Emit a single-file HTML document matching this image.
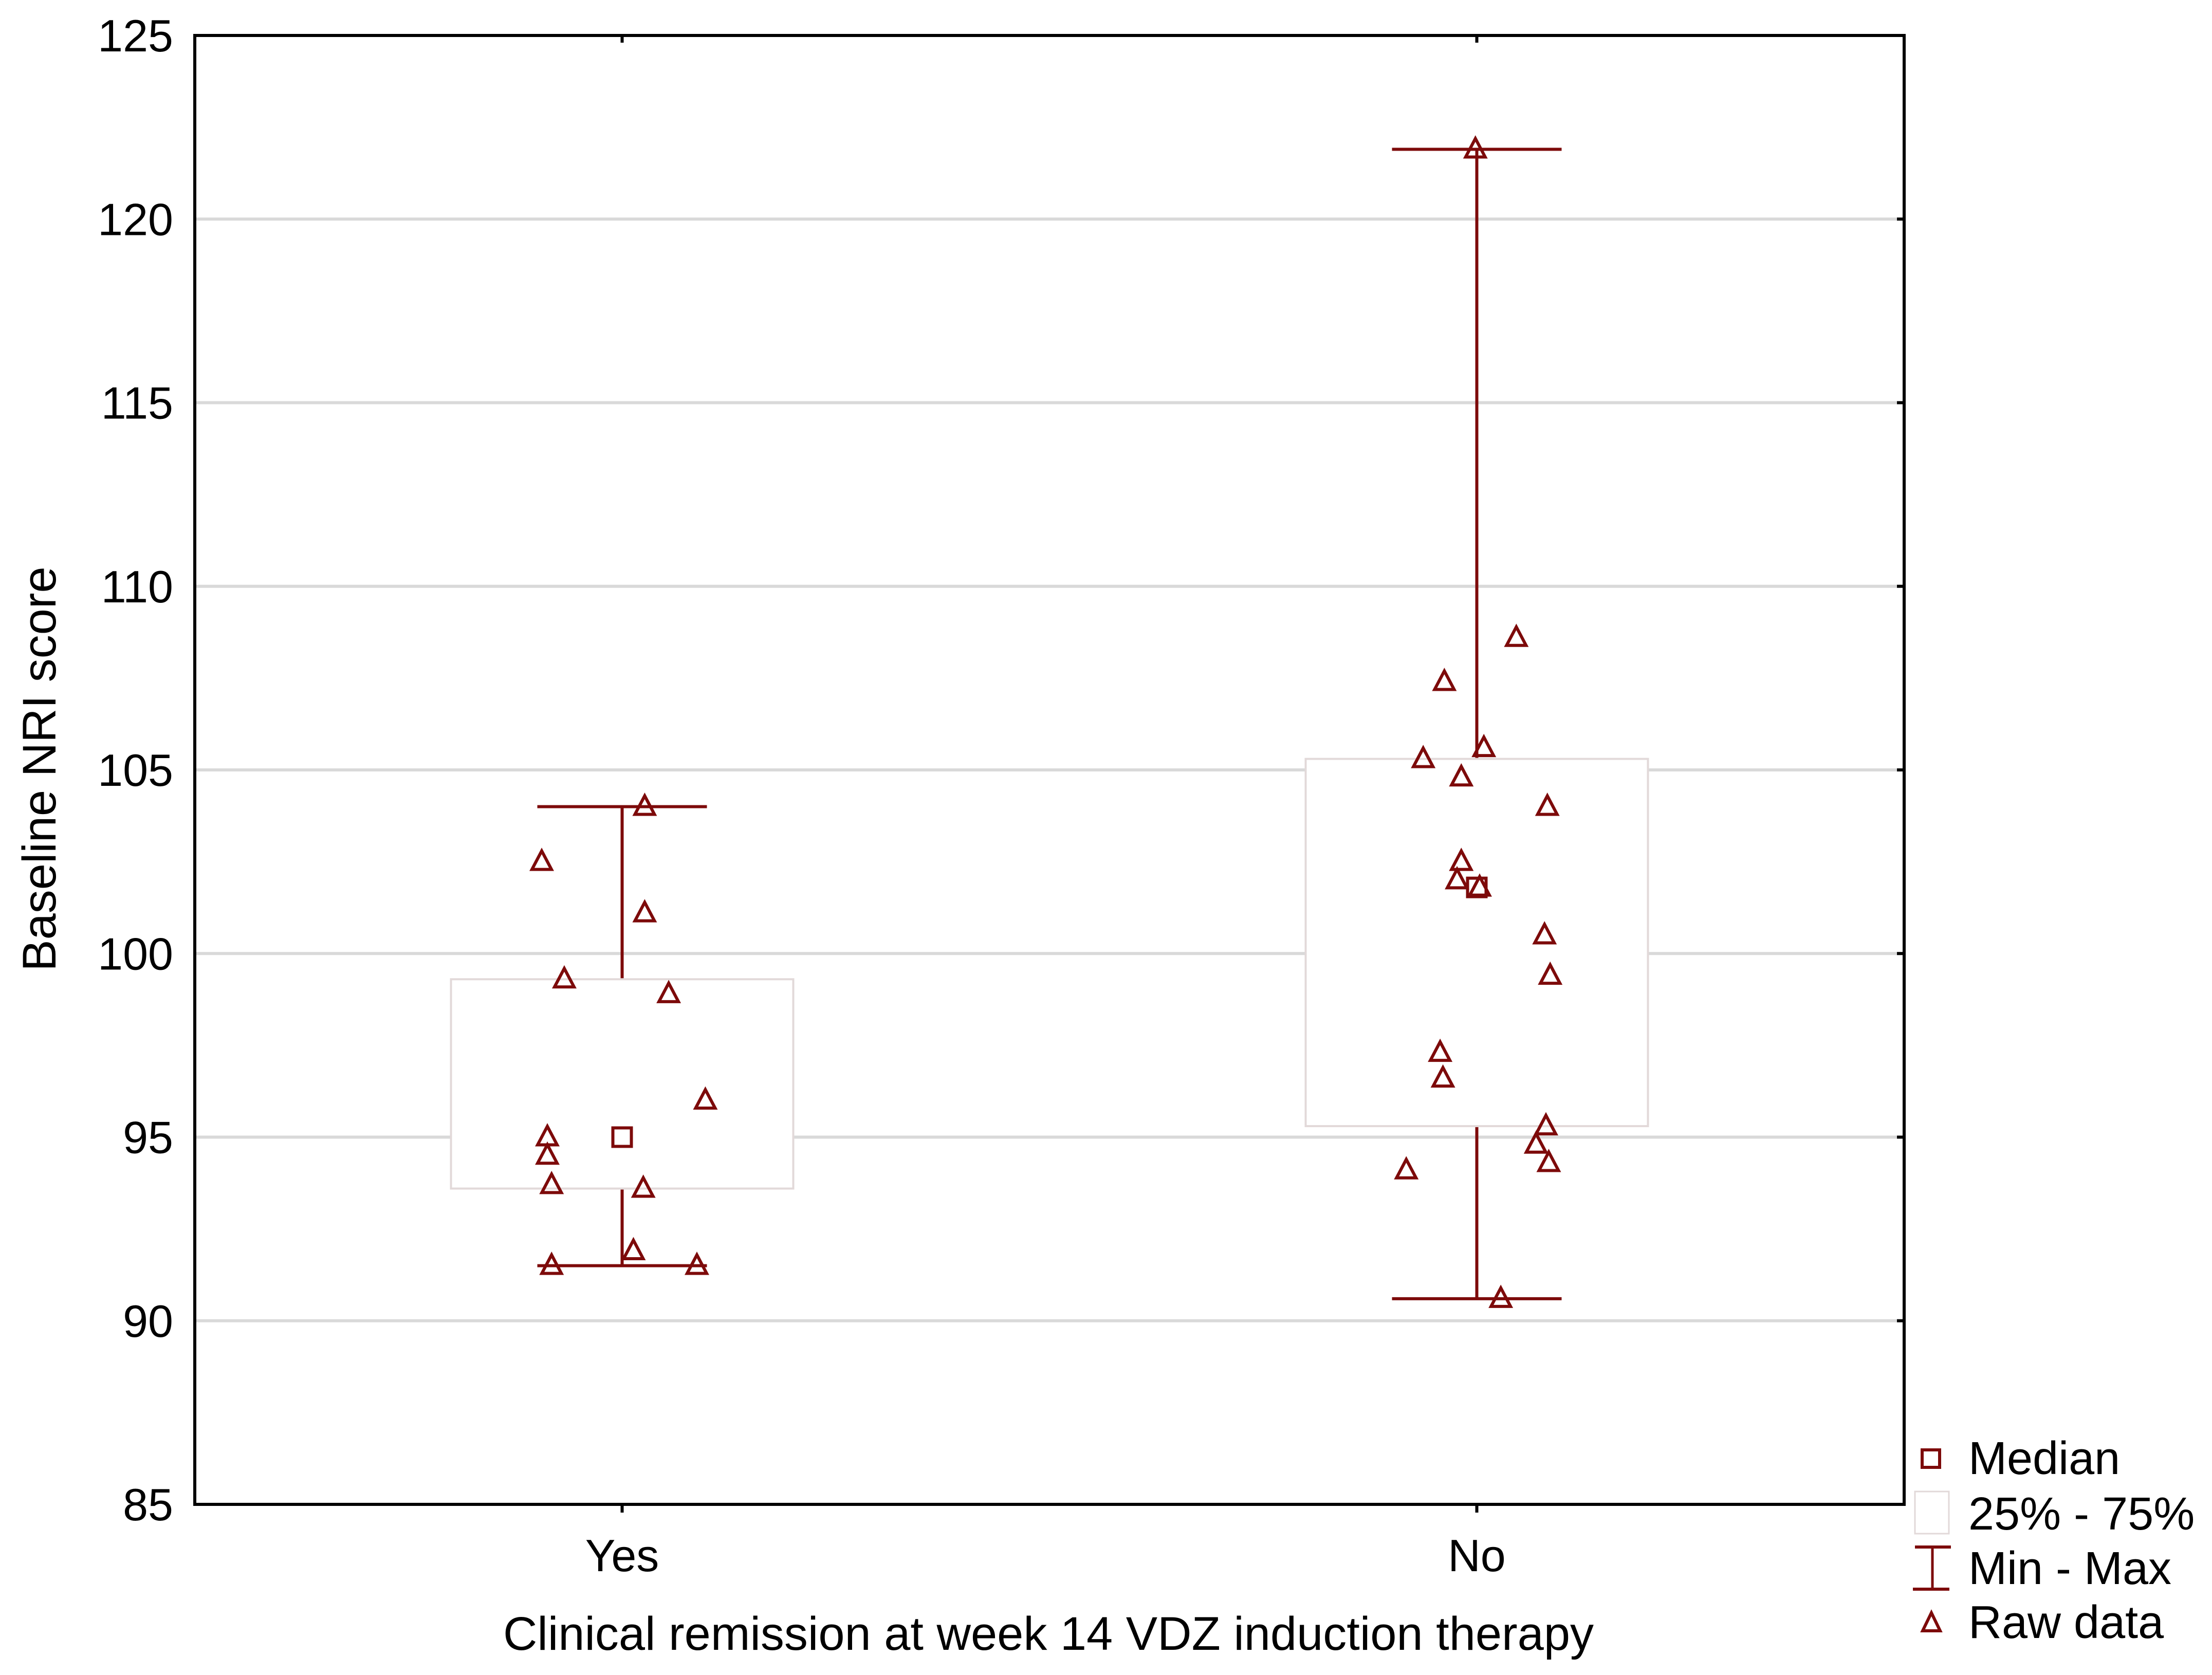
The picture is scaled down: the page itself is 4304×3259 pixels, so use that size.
<!DOCTYPE html>
<html><head><meta charset="utf-8"><style>
body{margin:0;background:#fff}
svg{display:block;font-family:"Liberation Sans",sans-serif}
</style></head><body>
<svg id="c" width="4304" height="3259" viewBox="0 0 4304 3259" xmlns="http://www.w3.org/2000/svg"></svg>
<script>
const categories=["Yes","No"];
const q1=[93.6,95.3];
const q3=[99.3,105.3];
const medians=[95,101.8];
const mins=[91.5,90.6];
const maxs=[104,121.9];
const rawYes=[104,102.5,101.1,99.3,98.9,96,95,94.5,93.7,93.6,91.9,91.5,91.5];
const jitYes=[16,-57,16,-41,33,59,-53,-53,-50,15,8,-50,53];
const rawNo=[121.9,108.6,107.4,105.6,105.3,104.8,104,102.5,102,101.8,100.5,99.4,97.3,96.6,95.3,94.8,94.3,94.1,90.6];
const jitNo=[-1,28,-23,5,-38,-11,50,-11,-14,2,48,52,-26,-24,49,42,51,-50,17];
const yTicks=[85,90,95,100,105,110,115,120,125];

const NS="http://www.w3.org/2000/svg";
const svg=document.getElementById('c');
const L=379,R=3705,T=69,B=2927;
const col="#7d0a0a";
const y=v=>B-(v-85)/40*(B-T);
const x=i=>L+(i+0.5)/categories.length*(R-L);
function el(t,a,p){const e=document.createElementNS(NS,t);for(const k in a)e.setAttribute(k,a[k]);(p||svg).appendChild(e);return e;}
const g=el('g',{});

yTicks.forEach(v=>{
  if(v>85&&v<125){const l=el('line',{x1:L,x2:R,y1:y(v),y2:y(v),stroke:"#d9d9d9","stroke-width":6},g);
  }
  const tk=el('line',{x1:R-14,x2:R,y1:y(v),y2:y(v),stroke:"#000","stroke-width":6});
  
  const t=el('text',{x:L-42,y:y(v)+31,"text-anchor":"end","font-size":88,fill:"#000"});
  t.textContent=v;
  
});
function drawJ(i,pts,jit){
  const cx=x(i);
  const bw=333,cw=165;
  const wl=el('line',{x1:cx,x2:cx,y1:y(maxs[i]),y2:y(mins[i]),stroke:col,"stroke-width":6});
  
  [maxs[i],mins[i]].forEach(v=>{const c=el('line',{x1:cx-cw,x2:cx+cw,y1:y(v),y2:y(v),stroke:col,"stroke-width":6});
    });
  const b=el('rect',{x:cx-bw,y:y(q3[i]),width:2*bw,height:y(q1[i])-y(q3[i]),fill:"#fff",stroke:"#e2d9d9","stroke-width":4});
  
  const m=el('rect',{x:cx-18,y:y(medians[i])-18,width:36,height:36,fill:"none",stroke:col,"stroke-width":6});
  
  pts.forEach((v,k)=>{const px=cx+jit[k]*2.745,py=y(v);
    const p=el('polygon',{points:`${px},${py-21} ${px-19},${py+15} ${px+19},${py+15}`,fill:"none",stroke:col,"stroke-width":6});
    });
  const tk=el('line',{x1:cx,x2:cx,y1:T,y2:T+14,stroke:"#000","stroke-width":6});
  
  const tb=el('line',{x1:cx,x2:cx,y1:B,y2:B+16,stroke:"#000","stroke-width":6});
  
  const t=el('text',{x:cx,y:3057,"text-anchor":"middle","font-size":88,fill:"#000"});t.textContent=categories[i];
  
}
drawJ(0,rawYes,jitYes);drawJ(1,rawNo,jitNo);
const fr=el('rect',{x:L,y:T,width:R-L,height:B-T,fill:"none",stroke:"#000","stroke-width":6});

const yt=el('text',{x:0,y:0,transform:"translate(108,1496) rotate(-90)","text-anchor":"middle","font-size":92,fill:"#000"});
yt.textContent="Baseline NRI score";

const xt=el('text',{x:2040,y:3210,"text-anchor":"middle","font-size":92,fill:"#000"});
xt.textContent="Clinical remission at week 14 VDZ induction therapy";

const lg=el('g',{});
const labels=["Median","25% - 75%","Min - Max","Raw data"];
const bases=[2868,2976,3082,3187];
labels.forEach((s,k)=>{const t=el('text',{x:3830,y:bases[k],"font-size":90,fill:"#000"},lg);t.textContent=s;
  });
el('rect',{x:3740,y:2821,width:34,height:34,fill:"none",stroke:col,"stroke-width":6},lg);
el('rect',{x:3726,y:2902,width:66,height:82,fill:"#fff",stroke:"#e2d9d9","stroke-width":3},lg);
el('line',{x1:3760,x2:3760,y1:3010,y2:3092,stroke:col,"stroke-width":5},lg);
el('line',{x1:3726,x2:3796,y1:3010,y2:3010,stroke:col,"stroke-width":6},lg);
el('line',{x1:3722,x2:3793,y1:3092,y2:3092,stroke:col,"stroke-width":6},lg);
el('polygon',{points:"3758,3138 3741,3173 3775,3173",fill:"none",stroke:col,"stroke-width":6},lg);
</script>
</body></html>
